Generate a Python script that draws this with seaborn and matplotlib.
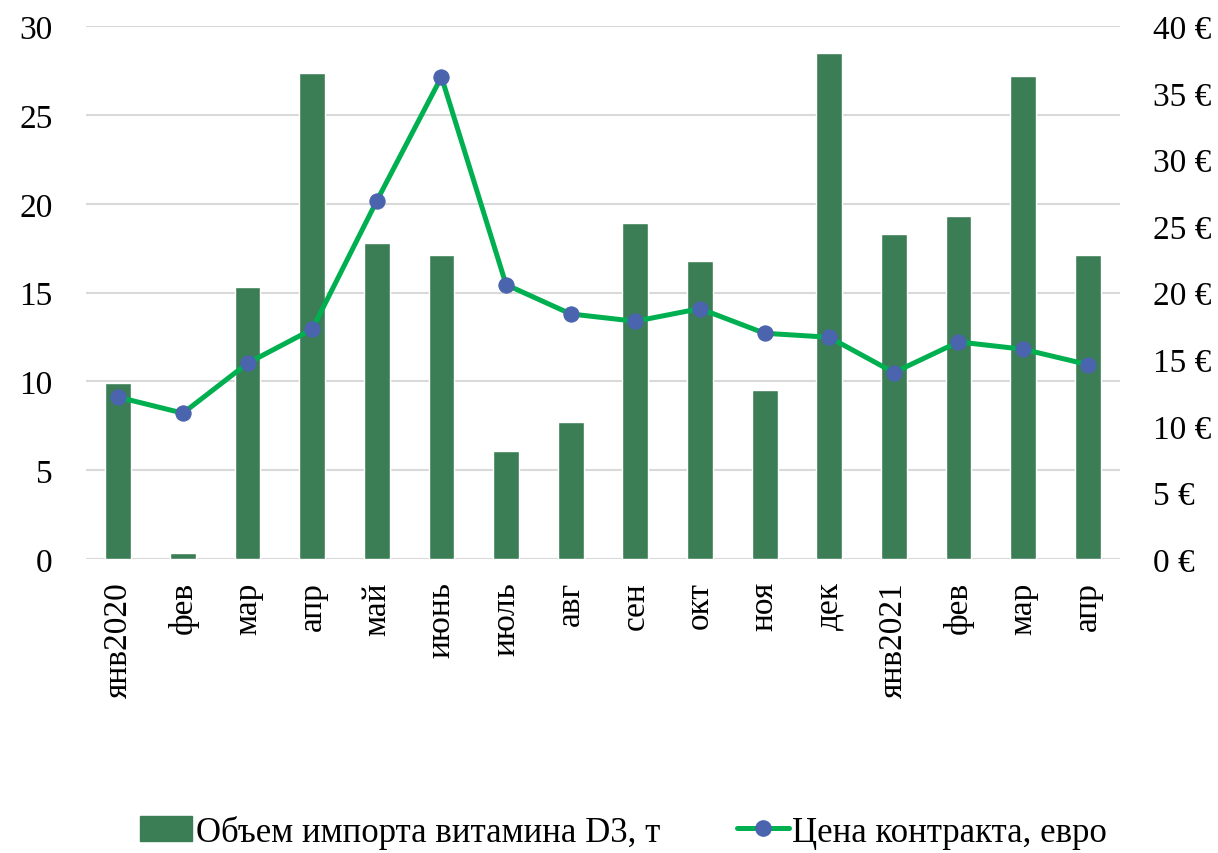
import numpy as np
import pandas as pd
import matplotlib
matplotlib.use("Agg")
import matplotlib.pyplot as plt
from matplotlib.lines import Line2D
from matplotlib.patches import Patch
from matplotlib.ticker import FuncFormatter, MultipleLocator
import seaborn as sns

sns.set_style("white")
plt.rcParams["font.family"] = ["Liberation Serif", "DejaVu Serif"]
plt.rcParams["text.color"] = "black"
plt.rcParams["xtick.color"] = "black"
plt.rcParams["ytick.color"] = "black"

# data
months = ["янв2020", "фев", "мар", "апр", "май", "июнь", "июль", "авг",
          "сен", "окт", "ноя", "дек", "янв2021", "фев", "мар", "апр"]
volume_t = [9.9, 0.35, 15.3, 27.35, 17.8, 17.1, 6.1, 7.7,
            18.95, 16.8, 9.5, 28.5, 18.3, 19.3, 27.2, 17.1]
price_eur = [12.15, 10.95, 14.7, 17.25, 26.9, 36.2, 20.6, 18.4,
             17.85, 18.8, 16.95, 16.65, 14.0, 16.3, 15.75, 14.6]

bar_label = "Объем импорта витамина D3, т"
line_label = "Цена контракта, евро"

df = pd.DataFrame({"pos": np.arange(len(months)), "month": months,
                   "volume": volume_t, "price": price_eur})

bar_color = "#3B7D55"
line_color = "#00B050"
marker_color = "#4A64AE"

fig = plt.figure(figsize=(12.18, 8.54), dpi=100)
ax = fig.add_axes([0.0706, 0.3443, 0.849, 0.6237])

sns.barplot(data=df, x="pos", y="volume", color=bar_color, width=0.4,
            saturation=1, ax=ax, zorder=2)
ax.set_xlim(-0.5, len(months) - 0.5)
ax.set_ylim(0, 30)
ax.yaxis.set_major_locator(MultipleLocator(5))
ax.grid(axis="y", color="#D9D9D9", linewidth=1.5, zorder=0)
ax.set_axisbelow(True)
ax.set_xticks(df["pos"])
ax.set_xticklabels(months, rotation=90)
ax.set_xlabel("")
ax.set_ylabel("")
for s in ax.spines.values():
    s.set_visible(False)
ax.tick_params(axis="y", length=0, labelsize=24, pad=24)
ax.tick_params(axis="x", length=0, labelsize=24, pad=16)

ax2 = ax.twinx()
sns.lineplot(data=df, x="pos", y="price", color=line_color, linewidth=3.6,
             marker="o", markersize=11, markerfacecolor=marker_color,
             markeredgecolor=marker_color, ax=ax2, zorder=3)
ax2.set_ylim(0, 40)
ax2.yaxis.set_major_locator(MultipleLocator(5))
ax2.yaxis.set_major_formatter(FuncFormatter(lambda v, p: f"{v:.0f} €"))
ax2.set_ylabel("")
ax2.set_xlabel("")
for s in ax2.spines.values():
    s.set_visible(False)
ax2.tick_params(axis="y", length=0, labelsize=24, pad=24)
ax2.grid(False)

handles = [Patch(facecolor=bar_color, edgecolor=bar_color),
           Line2D([0], [0], color=line_color, linewidth=3.6, marker="o",
                  markersize=11, markerfacecolor=marker_color,
                  markeredgecolor=marker_color)]
fig.legend(handles, [bar_label, line_label], loc="center",
           bbox_to_anchor=(0.512, 0.025), ncol=2, frameon=False,
           fontsize=25, handlelength=1.5, handletextpad=0.1, columnspacing=2.2)

fig.savefig("out.png", dpi=100)
